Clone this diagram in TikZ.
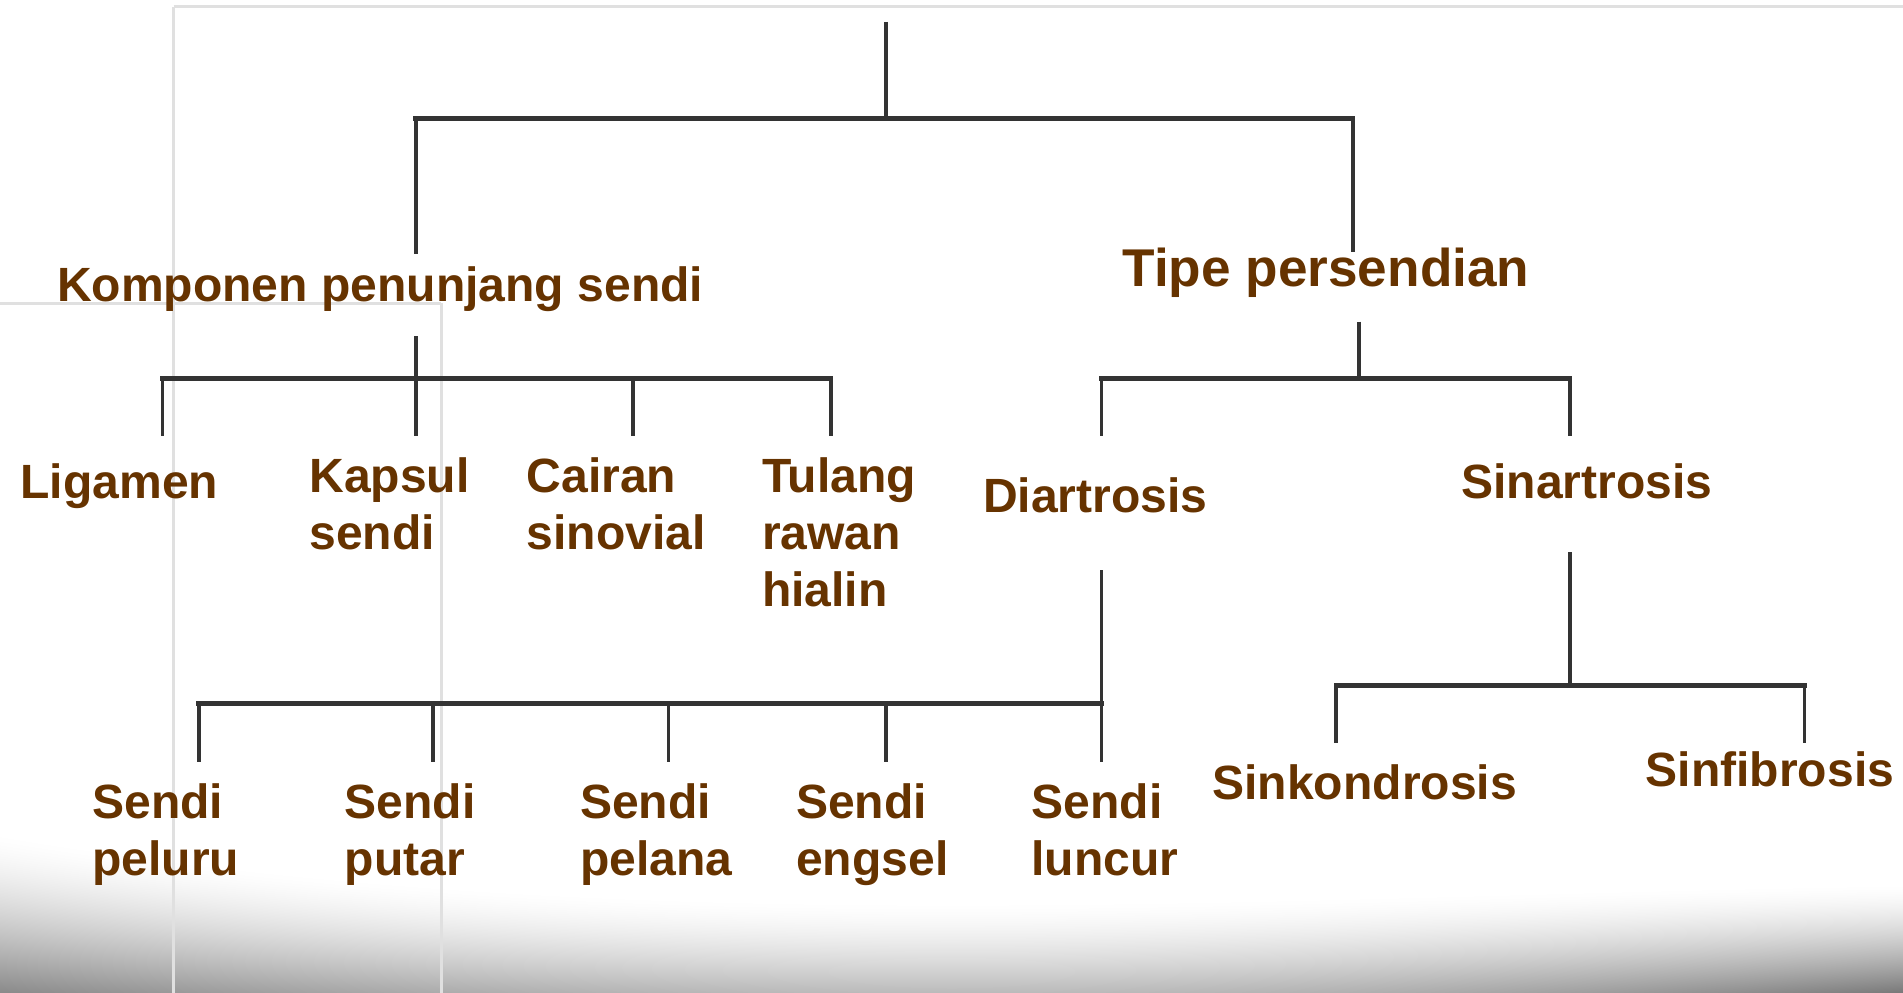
\documentclass[tikz,border=0pt]{standalone}
\usepackage{fontspec}
\setmainfont{Liberation Sans}
\definecolor{txtbrown}{HTML}{663300}
\definecolor{linegray}{HTML}{333333}
\definecolor{framegray}{HTML}{E0E0E0}
\pgfdeclarefunctionalshading{bottomshadow}{\pgfpoint{0bp}{0bp}}{\pgfpoint{100bp}{100bp}}{}{
  25 sub 2.76 mul exch
  50 sub 25 div
  dup dup mul
  exch 1 index mul
  2 copy
  -21 mul exch 36 mul add 75 add
  3 1 roll
  0.035 mul exch 0.225 mul add 0.27 add
  3 1 roll
  div
  1 exch sub
  dup 0 lt {pop 0} if
  dup 1 gt {pop 1} if
  dup sqrt mul
  mul
  1 exch sub
  dup dup
}
\begin{document}
\begin{tikzpicture}[x=1pt,y=-1pt,
  lbl/.style={anchor=base west, inner sep=0pt, outer sep=0pt, text=txtbrown,
    font=\fontsize{39.6}{47}\selectfont\bfseries},
  biglbl/.style={lbl, font=\fontsize{43.8}{52}\selectfont\bfseries},
  vline/.style={draw=linegray, line width=3pt},
  hline/.style={draw=linegray, line width=4pt, line cap=rect},
  framel/.style={draw=framegray, line width=2pt}]
\useasboundingbox (0,0) rectangle (1568,818);
\fill[white] (0,0) rectangle (1568,818);
% bottom shadow
\shade[shading=bottomshadow] (0,680) rectangle (1568,818);
% slide frame lines
\draw[framel] (143,5.5) -- (1568,5.5);
\draw[framel] (143,5.5) -- (143,818);
\draw[framel] (0,250) -- (363.6,250);
\draw[framel] (363.6,250) -- (363.6,818);

% labels
\node[lbl] (komp) at (47,248.6) {Komponen penunjang sendi};
\node[biglbl] (tipe) at (925,236.3) {Tipe persendian};
\node[lbl] (lig) at (17,411) {Ligamen};
\node[lbl] (kap) at (255,406) {\begin{tabular}[t]{@{}l@{}}Kapsul\\sendi\end{tabular}};
\node[lbl] (cai) at (434,406) {\begin{tabular}[t]{@{}l@{}}Cairan\\sinovial\end{tabular}};
\node[lbl] (tul) at (628,406) {\begin{tabular}[t]{@{}l@{}}Tulang\\rawan\\hialin\end{tabular}};
\node[lbl] (dia) at (810,422) {Diartrosis};
\node[lbl] (sin) at (1204,411) {Sinartrosis};
\node[lbl] (s1) at (76,674) {\begin{tabular}[t]{@{}l@{}}Sendi\\peluru\end{tabular}};
\node[lbl] (s2) at (284,674) {\begin{tabular}[t]{@{}l@{}}Sendi\\putar\end{tabular}};
\node[lbl] (s3) at (478,674) {\begin{tabular}[t]{@{}l@{}}Sendi\\pelana\end{tabular}};
\node[lbl] (s4) at (656,674) {\begin{tabular}[t]{@{}l@{}}Sendi\\engsel\end{tabular}};
\node[lbl] (s5) at (850,674) {\begin{tabular}[t]{@{}l@{}}Sendi\\luncur\end{tabular}};
\node[lbl] (sink) at (999,659) {Sinkondrosis};
\node[lbl] (sinf) at (1356,648) {Sinfibrosis};

% junction coordinates
\coordinate (rootT) at (730,18);
\coordinate (rootJ) at (730,97.5);
\coordinate (barL) at (342.6,97.5);
\coordinate (barR) at (1114.8,97.5);
\coordinate (kompIn) at (342.6,209.5);
\coordinate (tipeIn) at (1114.8,207.5);

\coordinate (kompOut) at (342.6,277);
\coordinate (kompJ) at (342.6,312);
\coordinate (kbL) at (133.8,312);
\coordinate (kbR) at (684.6,312);
\coordinate (ligIn) at (133.8,359);
\coordinate (kapIn) at (342.6,359);
\coordinate (caiJ) at (521.3,312);
\coordinate (caiIn) at (521.3,359);
\coordinate (tulIn) at (684.6,359);

\coordinate (tipeOut) at (1119.7,265);
\coordinate (tipeJ) at (1119.7,312);
\coordinate (tbL) at (907.5,312);
\coordinate (tbR) at (1293.6,312);
\coordinate (diaIn) at (907.5,359);
\coordinate (sinIn) at (1293.6,359);

\coordinate (diaOut) at (907.5,470);
\coordinate (dbL) at (163.8,580);
\coordinate (dbR) at (907.5,580);
\coordinate (s1In) at (163.8,628);
\coordinate (s2J) at (356.9,580);
\coordinate (s2In) at (356.9,628);
\coordinate (s3J) at (550.8,580);
\coordinate (s3In) at (550.8,628);
\coordinate (s4J) at (730,580);
\coordinate (s4In) at (730,628);
\coordinate (s5In) at (907.5,628);

\coordinate (sinOut) at (1293.6,455);
\coordinate (sbJ) at (1293.6,565);
\coordinate (sbL) at (1100.8,565);
\coordinate (sbR) at (1486.8,565);
\coordinate (sinkIn) at (1100.8,612);
\coordinate (sinfIn) at (1486.8,612);

% connectors
\draw[vline] (rootT) -- (rootJ);
\draw[hline] (barL) -- (barR);
\draw[vline] (barL) -- (kompIn);
\draw[vline] (barR) -- (tipeIn);

\draw[vline] (kompOut) -- (kompJ);
\draw[hline] (kbL) -- (kbR);
\draw[vline] (kbL) -- (ligIn);
\draw[vline] (kompJ) -- (kapIn);
\draw[vline] (caiJ) -- (caiIn);
\draw[vline] (kbR) -- (tulIn);

\draw[vline] (tipeOut) -- (tipeJ);
\draw[hline] (tbL) -- (tbR);
\draw[vline] (tbL) -- (diaIn);
\draw[vline] (tbR) -- (sinIn);

\draw[vline] (diaOut) -- (s5In);
\draw[hline] (dbL) -- (dbR);
\draw[vline] (dbL) -- (s1In);
\draw[vline] (s2J) -- (s2In);
\draw[vline] (s3J) -- (s3In);
\draw[vline] (s4J) -- (s4In);

\draw[vline] (sinOut) -- (sbJ);
\draw[hline] (sbL) -- (sbR);
\draw[vline] (sbL) -- (sinkIn);
\draw[vline] (sbR) -- (sinfIn);
\end{tikzpicture}
\end{document}
